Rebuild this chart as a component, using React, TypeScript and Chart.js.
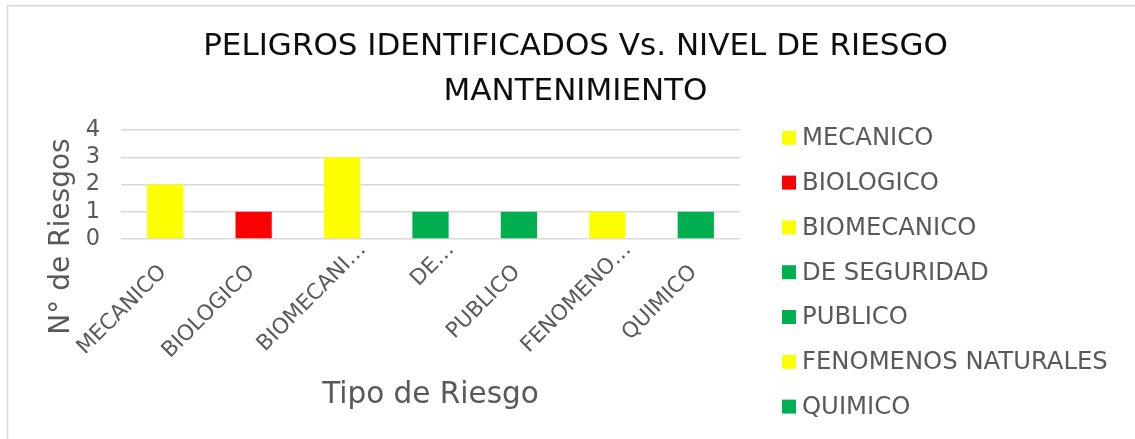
import React, { useEffect, useRef } from "react";
import { Chart, registerables } from "chart.js";

Chart.register(...registerables);

const categories = ["MECANICO", "BIOLOGICO", "BIOMECANICO", "DE SEGURIDAD", "PUBLICO", "FENOMENOS NATURALES", "QUIMICO"];
const tickLabels = ["MECANICO", "BIOLOGICO", "BIOMECANI…", "DE…", "PUBLICO", "FENOMENO…", "QUIMICO"];
const values = [2, 1, 3, 1, 1, 1, 1];
const barColors = ["#FFFF00", "#FF0000", "#FFFF00", "#00B050", "#00B050", "#FFFF00", "#00B050"];
const yMin = 0;
const yMax = 4;
const yStep = 1;
const titleLines = ["PELIGROS IDENTIFICADOS Vs. NIVEL DE RIESGO", "MANTENIMIENTO"];
const xTitle = "Tipo de Riesgo";
const yTitle = "N° de Riesgos";

const FONT = "'DejaVu Sans', Verdana, sans-serif";
const GRAY = "#595959";

const decorPlugin = {
  id: "decor",
  afterDraw(chart: any) {
    const ctx = chart.ctx as CanvasRenderingContext2D;
    const area = chart.chartArea;
    const xs = chart.scales.x;
    ctx.save();
    // outer chart border (top & left visible)
    ctx.strokeStyle = "#d9d9d9";
    ctx.lineWidth = 1.5;
    ctx.beginPath();
    ctx.moveTo(7.5, 460);
    ctx.lineTo(7.5, 5.8);
    ctx.lineTo(1160, 5.8);
    ctx.stroke();

    // title
    ctx.fillStyle = "#0d0d0d";
    ctx.font = `31px ${FONT}`;
    ctx.textAlign = "center";
    ctx.textBaseline = "alphabetic";
    ctx.fillText(titleLines[0], 575.5, 55);
    ctx.fillText(titleLines[1], 575.5, 100);

    // x axis title
    ctx.fillStyle = GRAY;
    ctx.font = `29.5px ${FONT}`;
    ctx.fillText(xTitle, (area.left + area.right) / 2, 403);

    // y axis title
    ctx.save();
    ctx.translate(69, 236.5);
    ctx.rotate(-Math.PI / 2);
    ctx.font = `28px ${FONT}`;
    ctx.textAlign = "center";
    ctx.fillText(yTitle, 0, 0);
    ctx.restore();

    // x tick labels, rotated 45° (truncated ones sit further along, as Excel does)
    ctx.font = `21.5px ${FONT}`;
    ctx.textAlign = "right";
    ctx.textBaseline = "middle";
    ctx.fillStyle = GRAY;
    const d = Math.SQRT1_2;
    tickLabels.forEach((lab, i) => {
      const px = xs.getPixelForValue(i);
      let mx = px - 2;
      let my = area.bottom + 30;
      if (lab.endsWith("…")) {
        mx += 32 * d;
        my -= 32 * d;
      }
      ctx.save();
      ctx.translate(mx, my);
      ctx.rotate(-Math.PI / 4);
      ctx.fillText(lab, 0, 0);
      ctx.restore();
    });

    // legend
    ctx.font = `24.3px ${FONT}`;
    ctx.textAlign = "left";
    ctx.textBaseline = "middle";
    categories.forEach((name, i) => {
      const cy = 137.8 + i * 44.8;
      ctx.fillStyle = barColors[i];
      ctx.fillRect(782, cy - 7, 14, 14);
      ctx.fillStyle = GRAY;
      ctx.fillText(name, 802, cy + 1);
    });
    ctx.restore();
  },
};

export default function App() {
  const ref = useRef<HTMLCanvasElement>(null);
  useEffect(() => {
    if (!ref.current) return;
    Chart.defaults.font.family = FONT;
    const chart = new Chart(ref.current, {
      type: "bar",
      data: {
        labels: tickLabels,
        datasets: [
          {
            label: "Riesgos",
            data: values,
            backgroundColor: barColors,
            borderWidth: 0,
            barPercentage: 0.41,
            categoryPercentage: 1,
          },
        ],
      },
      options: {
        responsive: false,
        animation: false,
        devicePixelRatio: 1,
        layout: { padding: { left: 81, top: 130, right: 395, bottom: 0 } },
        plugins: {
          legend: { display: false },
          title: { display: false },
          tooltip: { enabled: false },
        },
        scales: {
          x: {
            afterFit(scale: any) {
              scale.height = 200;
            },
            grid: { display: false },
            border: { display: false },
            ticks: { display: false },
          },
          y: {
            min: yMin,
            max: yMax,
            afterFit(scale: any) {
              scale.width = 40;
            },
            grid: { color: "#d9d9d9", lineWidth: 1.5, drawTicks: false },
            border: { display: false },
            ticks: {
              stepSize: yStep,
              autoSkip: false,
              color: GRAY,
              font: { size: 22.5 },
              padding: 21,
            },
          },
        },
      },
      plugins: [decorPlugin],
    });
    return () => chart.destroy();
  }, []);
  return (
    <div style={{ position: "fixed", left: 0, top: 0, width: 1135, height: 439, background: "#fff" }}>
      <canvas ref={ref} width={1135} height={439} />
    </div>
  );
}
